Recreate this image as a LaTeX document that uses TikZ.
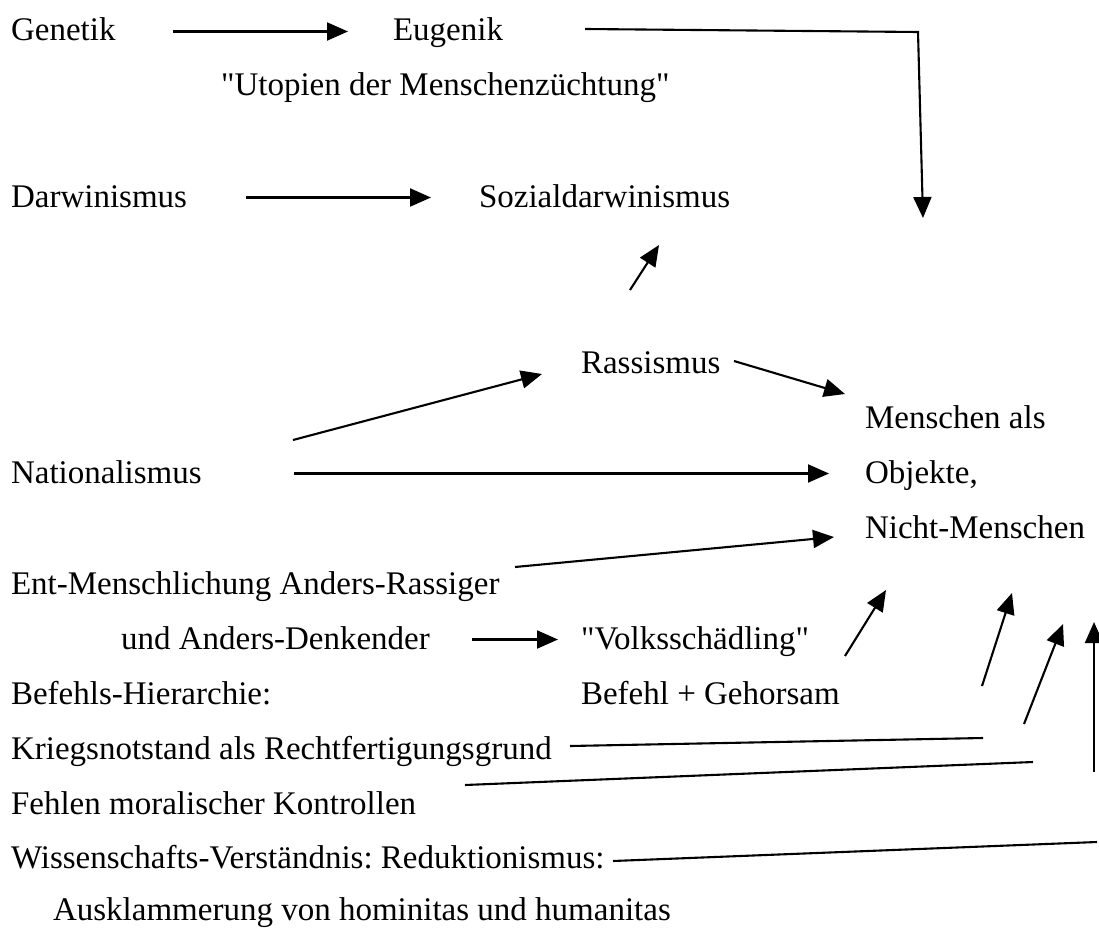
\documentclass[tikz,border=0pt]{standalone}
\usepackage{fontspec}
\setmainfont{Liberation Serif}[Ligatures=TeXOff]
\usetikzlibrary{arrows.meta}
\frenchspacing
\begin{document}
\begin{tikzpicture}[x=1pt,y=-1pt,font=\fontsize{33}{40}\selectfont,
  >={Triangle[length=21pt,width=18pt]},line width=2.1pt,
  txt/.style={anchor=base west,inner sep=0pt,text height=22pt,text depth=3pt}]
  \useasboundingbox (0,0) rectangle (1099,928);
  % texts
  \node[txt] (genetik) at (10,41) {Genetik};
  \node[txt] (eugenik) at (392,41) {Eugenik};
  \node[txt] (utopien) at (220,96) {"Utopien der Menschenzüchtung"};
  \node[txt] (darwin) at (10,207) {Darwinismus};
  \node[txt] (sozial) at (478,207) {Sozialdarwinismus};
  \node[txt] (rassismus) at (580,373) {Rassismus};
  \node[txt] (menschen) at (864,428) {Menschen als};
  \node[txt] (nation) at (10,483) {Nationalismus};
  \node[txt] (objekte) at (864,483) {Objekte,};
  \node[txt] (nicht) at (864,538) {Nicht-Menschen};
  \node[txt] (entmensch) at (10,594) {Ent-Menschlichung Anders-Rassiger};
  \node[txt] (denkender) at (120,649) {und Anders-Denkender};
  \node[txt] (volk) at (580,649) {"Volksschädling"};
  \node[txt] (hierarchie) at (10,704) {Befehls-Hierarchie:};
  \node[txt] (befehl) at (580,704) {Befehl + Gehorsam};
  \node[txt] (krieg) at (10,759) {Kriegsnotstand als Rechtfertigungsgrund};
  \node[txt] (fehlen) at (10,814) {Fehlen moralischer Kontrollen};
  \node[txt] (wissen) at (10,868) {Wissenschafts-Verständnis: Reduktionismus:};
  \node[txt] (ausklam) at (52,920) {Ausklammerung von hominitas und humanitas};
  % free ends
  \coordinate (eugS) at (585,29);
  \coordinate (eugC) at (918,32);
  \coordinate (eugE) at (923,218);
  \coordinate (rasS) at (630,290);
  \coordinate (rasE) at (659,245);
  \coordinate (natS) at (293,440);
  \coordinate (natE) at (542,374);
  \coordinate (rmS) at (734,361);
  \coordinate (rmE) at (845,394);
  \coordinate (entS) at (515,567);
  \coordinate (entE) at (834,537);
  \coordinate (volkS) at (845,656);
  \coordinate (volkE) at (886,590);
  \coordinate (befS) at (982,686);
  \coordinate (befE) at (1012,593);
  \coordinate (kriegS) at (570,746);
  \coordinate (kriegE) at (983,738);
  \coordinate (fehlS) at (465,785);
  \coordinate (fehlE) at (1033,762);
  \coordinate (fehlU) at (1024,724);
  \coordinate (fehlT) at (1063,624);
  \coordinate (wissS) at (613,861);
  \coordinate (wissE) at (1097,842);
  \coordinate (wissU) at (1094,772);
  \coordinate (wissT) at (1094,622);
  % arrows
  \draw[->,shorten <=56pt,shorten >=44pt] (genetik.east) -- (eugenik.west);
  \draw[->] (eugS) -- (eugC) -- (eugE);
  \draw[->,shorten <=58pt,shorten >=47pt] (darwin.east) -- (sozial.west);
  \draw[->] (rasS) -- (rasE);
  \draw[->] (natS) -- (natE);
  \draw[->] (rmS) -- (rmE);
  \draw[->,shorten <=91pt,shorten >=35pt] (nation.east) -- (objekte.west);
  \draw[->] (entS) -- (entE);
  \draw[->,shorten <=41pt,shorten >=22pt] (denkender.east) -- (volk.west);
  \draw[->] (volkS) -- (volkE);
  \draw[->] (befS) -- (befE);
  \draw (kriegS) -- (kriegE);
  \draw (fehlS) -- (fehlE);
  \draw[->] (fehlU) -- (fehlT);
  \draw (wissS) -- (wissE);
  \draw[->] (wissU) -- (wissT);
\end{tikzpicture}
\end{document}
